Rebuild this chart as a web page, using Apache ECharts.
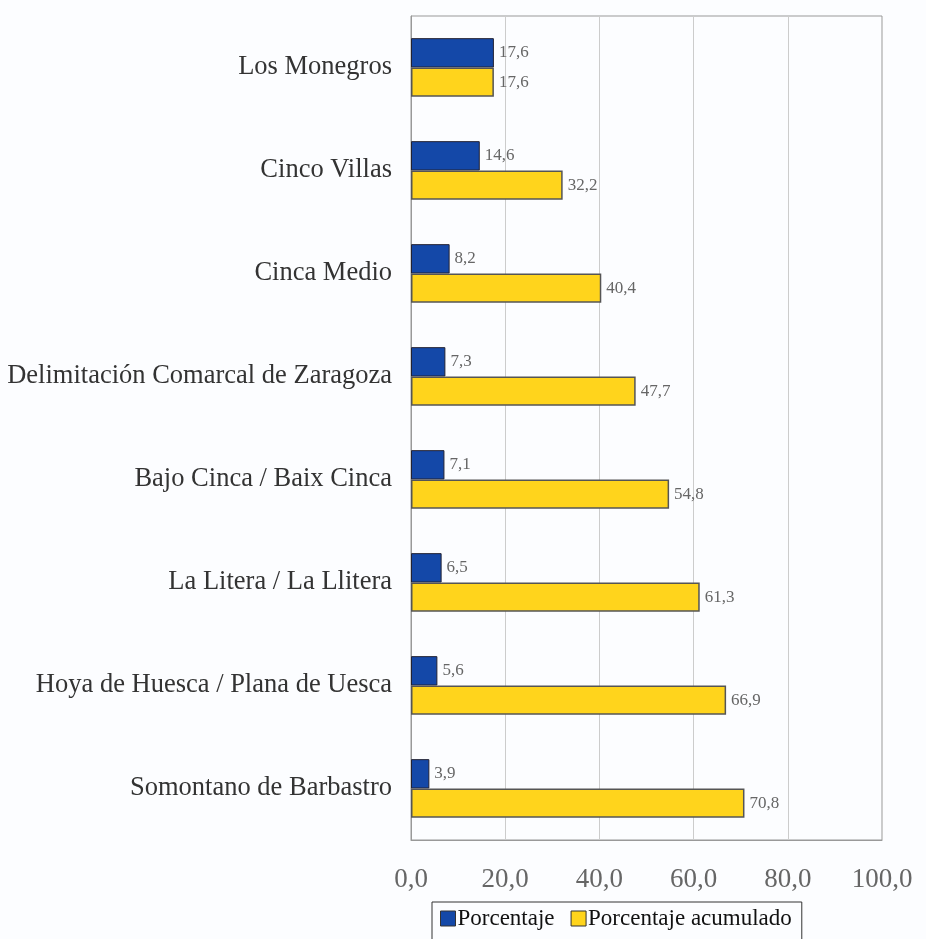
<!DOCTYPE html>
<html><head><meta charset="utf-8">
<script src="https://cdn.jsdelivr.net/npm/echarts@6/dist/echarts.min.js"></script>
<style>html,body{margin:0;padding:0;background:#fcfdff;}#c{width:926px;height:939px;}</style>
</head><body><div id="c"></div>
<script>
var categories = ["Los Monegros","Cinco Villas","Cinca Medio","Delimitación Comarcal de Zaragoza","Bajo Cinca / Baix Cinca","La Litera / La Llitera","Hoya de Huesca / Plana de Uesca","Somontano de Barbastro"];
var porcentaje = [17.6,14.6,8.2,7.3,7.1,6.5,5.6,3.9];
var acumulado = [17.6,32.2,40.4,47.7,54.8,61.3,66.9,70.8];
var seriesNames = ["Porcentaje","Porcentaje acumulado"];
var xTicks = [0,20,40,60,80,100];

var fmt = function(v){ return Number(v).toFixed(1).replace('.', ','); };
var serif = '"Liberation Serif","DejaVu Serif",serif';
var chart = echarts.init(document.getElementById('c'));
chart.setOption({
  backgroundColor:'#fcfdff',
  animation:false,
  grid:{left:411,right:44,top:16,bottom:99,show:true,borderColor:'#999',borderWidth:1},
  legend:{
    data:seriesNames, left:432, top:902, orient:'horizontal',
    icon:'rect',
    itemWidth:15,itemHeight:15,itemGap:16,
    borderColor:'#333',borderWidth:1,padding:[5,10,12,8],
    textStyle:{fontFamily:serif,fontSize:23,color:'#111',padding:[0,0,0,-3]},
    itemStyle:{borderColor:'#333',borderWidth:1},
    selectedMode:false
  },
  xAxis:{
    type:'value',min:xTicks[0],max:xTicks[xTicks.length-1],interval:20,
    axisLine:{show:true,lineStyle:{color:'#999'}},
    axisTick:{show:false},
    splitLine:{show:true,lineStyle:{color:'#ccc'}},
    axisLabel:{formatter:fmt,fontFamily:serif,fontSize:27,color:'#666',margin:26}
  },
  yAxis:{
    type:'category',data:categories,inverse:true,
    axisLine:{show:true,lineStyle:{color:'#999'}},
    axisTick:{show:false},
    axisLabel:{fontFamily:serif,fontSize:26.5,color:'#333',margin:19}
  },
  series:[
    {name:seriesNames[0],type:'bar',data:porcentaje,barGap:'0%',barCategoryGap:'43%',
     itemStyle:{color:'#1448a8',borderColor:'#223',borderWidth:1},
     label:{show:true,position:'right',distance:5,formatter:function(p){return fmt(p.value);},fontFamily:serif,fontSize:17,color:'#666'}},
    {name:seriesNames[1],type:'bar',data:acumulado,barGap:'0%',barCategoryGap:'43%',
     itemStyle:{color:'#ffd41c',borderColor:'#555',borderWidth:1.5},
     label:{show:true,position:'right',distance:5,formatter:function(p){return fmt(p.value);},fontFamily:serif,fontSize:17,color:'#666'}}
  ]
});
</script></body></html>
